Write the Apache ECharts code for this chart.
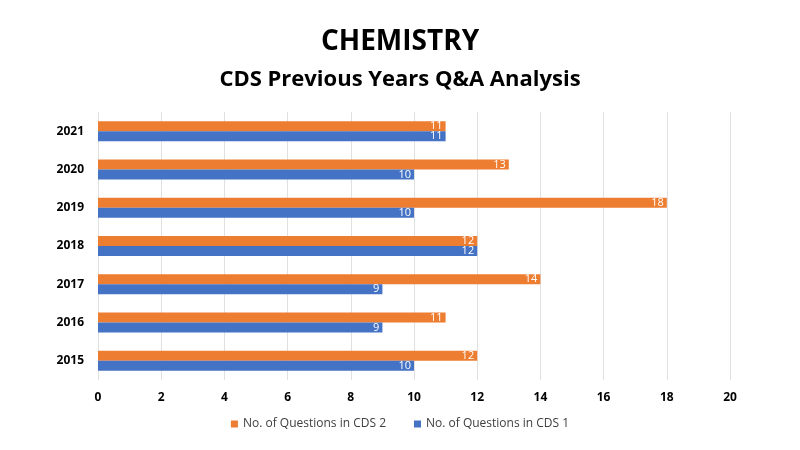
<!DOCTYPE html>
<html><head><meta charset="utf-8">
<script src="https://cdn.jsdelivr.net/npm/echarts@6/dist/echarts.min.js"></script>
<style>html,body{margin:0;padding:0;background:#fff}#c{width:800px;height:450px}</style>
</head><body><div id="c"></div>
<script>
const years = ['2015','2016','2017','2018','2019','2020','2021'];
const cds1 = [10, 9, 9, 12, 10, 10, 11];
const cds2 = [12, 11, 14, 12, 18, 13, 11];
const xTicks = [0, 20, 2];
const font = '"Open Sans", "Noto Sans", sans-serif';
const chart = echarts.init(document.getElementById('c'));
const lbl = {show:true, position:'insideRight', color:'#fff', fontSize:11, fontFamily:font, offset:[2,0]};
chart.setOption({
  animation:false,
  backgroundColor:'#fff',
  title:[
    {text:'CHEMISTRY', left:'center', top:23, textStyle:{fontSize:28, fontWeight:'bold', color:'#000', fontFamily:font}},
    {text:'CDS Previous Years Q&A Analysis', left:'center', top:64, textStyle:{fontSize:22, fontWeight:'bold', color:'#000', fontFamily:font}}
  ],
  legend:{
    data:['No. of Questions in CDS 2','No. of Questions in CDS 1'],
    bottom:15, left:'center', icon:'rect', itemWidth:7, itemHeight:7, itemGap:28,
    textStyle:{fontSize:12, color:'#404040', fontFamily:font}
  },
  grid:{left:98, right:70, top:112, bottom:70},
  xAxis:{type:'value', min:xTicks[0], max:xTicks[1], interval:xTicks[2],
    axisLine:{show:false}, axisTick:{show:false},
    axisLabel:{fontSize:12, fontWeight:'bold', color:'#000', fontFamily:font, margin:12},
    splitLine:{lineStyle:{color:'#e0e0e0'}}},
  yAxis:{type:'category', data:years,
    axisLine:{show:false}, axisTick:{show:false},
    axisLabel:{fontSize:12, fontWeight:'bold', color:'#000', fontFamily:font, margin:14}},
  series:[
    {name:'No. of Questions in CDS 2', type:'bar', data:cds2, barWidth:10, barGap:'0%', itemStyle:{color:'#ED7D31'}, label:lbl},
    {name:'No. of Questions in CDS 1', type:'bar', data:cds1, barWidth:10, barGap:'0%', itemStyle:{color:'#4472C4'}, label:lbl}
  ]
});
</script></body></html>
